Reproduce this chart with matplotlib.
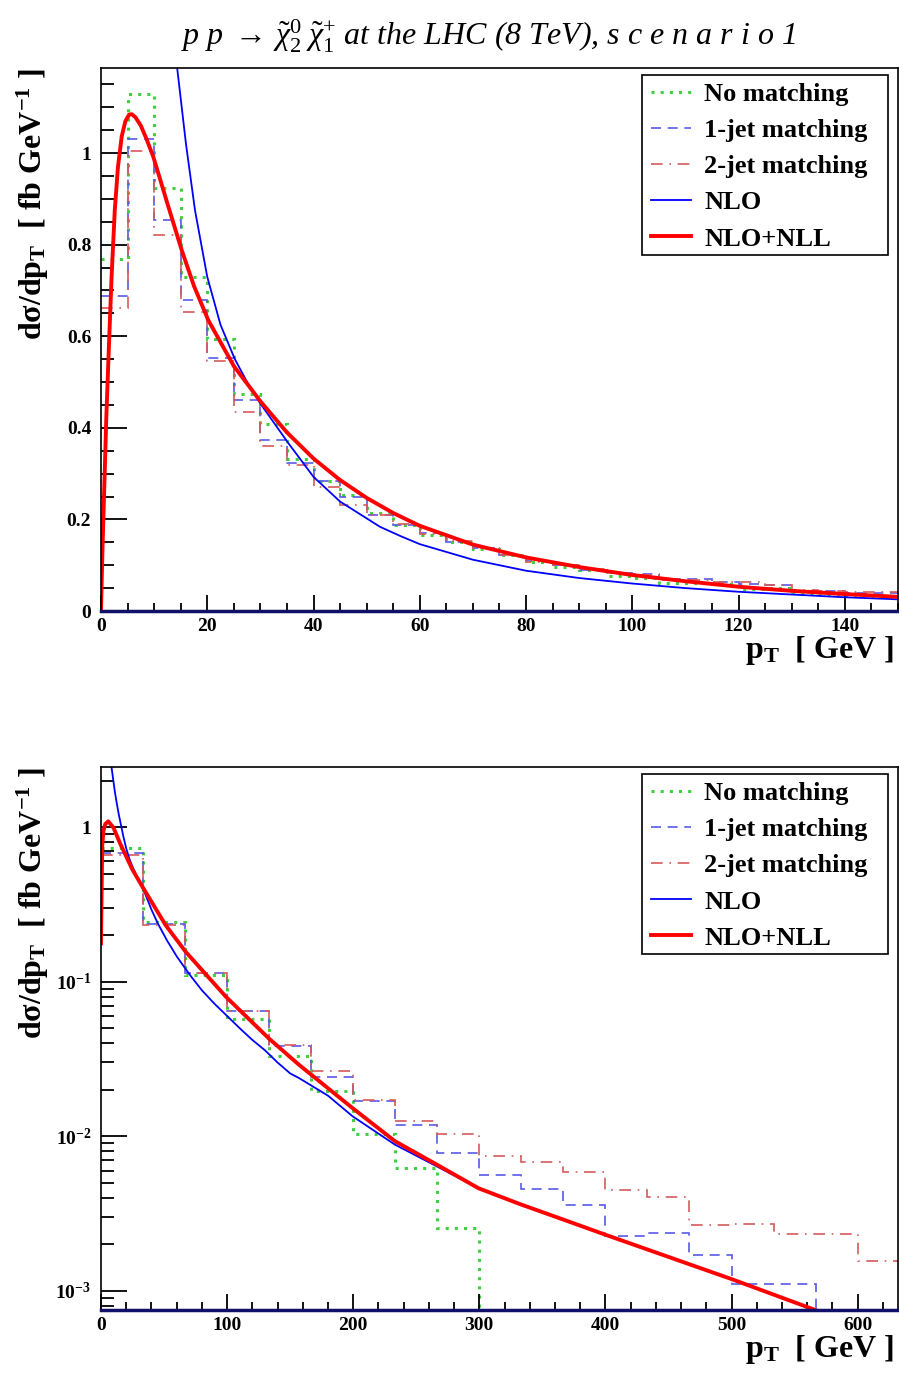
import numpy as np
import matplotlib.pyplot as plt
from matplotlib.patches import Rectangle
from matplotlib.ticker import MultipleLocator, FuncFormatter, LogLocator, NullFormatter

plt.rcParams['font.family'] = ['Liberation Serif', 'DejaVu Serif']
plt.rcParams['font.weight'] = 'bold'
plt.rcParams['mathtext.fontset'] = 'custom'
plt.rcParams['mathtext.rm'] = 'Liberation Serif:weight=normal'
plt.rcParams['mathtext.bf'] = 'Liberation Serif:weight=bold'
plt.rcParams['mathtext.it'] = 'Liberation Serif:style=italic:weight=normal'

# ---- top panel: linear, 5 GeV bins ----
edges_lin = np.arange(0, 151, 5)
nomatch_lin = [0.768, 1.130, 0.924, 0.729, 0.593, 0.475, 0.408, 0.333, 0.285, 0.253,
               0.213, 0.188, 0.166, 0.151, 0.135, 0.122, 0.108, 0.097, 0.090, 0.076,
               0.071, 0.062, 0.061, 0.059, 0.047, 0.050, 0.040, 0.038, 0.035, 0.033]
jet1_lin = [0.688, 1.031, 0.853, 0.680, 0.552, 0.461, 0.373, 0.324, 0.283, 0.250,
            0.209, 0.188, 0.170, 0.151, 0.137, 0.122, 0.110, 0.100, 0.090, 0.082,
            0.081, 0.070, 0.070, 0.064, 0.060, 0.057, 0.044, 0.043, 0.040, 0.040]
jet2_lin = [0.662, 1.004, 0.822, 0.652, 0.546, 0.435, 0.360, 0.319, 0.271, 0.231,
            0.210, 0.190, 0.168, 0.153, 0.137, 0.123, 0.108, 0.100, 0.092, 0.083,
            0.079, 0.068, 0.067, 0.063, 0.063, 0.056, 0.045, 0.044, 0.042, 0.041]

nlo_pt = [6, 7, 8.5, 10, 11, 12.5, 14.2, 16, 17.7, 20, 22.5, 25.2, 27.5, 30, 35.3, 40,
          45, 52.5, 56.3, 60, 70, 80, 90, 100, 110, 120, 130, 140, 150, 157, 180,
          199.5, 233, 266, 299.5, 332.5, 366, 399, 500, 568.5, 600]
nlo_val = [3.8, 3.1, 2.4, 1.95, 1.7, 1.43, 1.2, 1.02, 0.875, 0.73, 0.625, 0.55, 0.50,
           0.453, 0.366, 0.293, 0.239, 0.184, 0.164, 0.146, 0.112, 0.088, 0.072, 0.060,
           0.050, 0.042, 0.036, 0.030, 0.0255, 0.0238, 0.0183, 0.01346, 0.00883, 0.0064,
           0.0046, 0.00363, 0.0029, 0.00232, 0.00119, 0.00074, 0.0006]

nll_pt = [0, 0.3, 0.7, 1.0, 1.4, 2.0, 2.6, 3.2, 3.9, 4.6, 5.3, 5.8, 6.5, 7.5, 8.5, 9.85,
          11, 12.5, 15.2, 17.5, 20.2, 25, 30, 35, 40, 45, 50, 55, 60, 70, 80, 90, 100,
          110, 120, 130, 140, 150]
nll_val = [0, 0.14, 0.30, 0.42, 0.548, 0.73, 0.875, 0.97, 1.036, 1.070, 1.084, 1.085,
           1.078, 1.06, 1.033, 0.992, 0.948, 0.89, 0.788, 0.71, 0.635, 0.535, 0.458,
           0.390, 0.333, 0.286, 0.247, 0.214, 0.186, 0.145, 0.117, 0.096, 0.0786, 0.065,
           0.053, 0.044, 0.037, 0.031]

# ---- bottom panel: log, 33.3 GeV bins ----
edges_log = np.linspace(0, 633.3, 20)
nomatch_log = [0.732, 0.244, 0.110, 0.0571, 0.0328, 0.0195, 0.0104, 0.00625, 0.00256,
               0, 0, 0, 0, 0, 0, 0, 0, 0, 0]
jet1_log = [0.683, 0.236, 0.113, 0.0646, 0.0385, 0.0240, 0.0168, 0.01177, 0.00773,
            0.0056, 0.00455, 0.00357, 0.00225, 0.00238, 0.0017, 0.0011, 0.0011, 0, 0]
jet2_log = [0.663, 0.232, 0.114, 0.065, 0.0388, 0.0263, 0.01725, 0.0126, 0.01026,
            0.0075, 0.0068, 0.00586, 0.00447, 0.00405, 0.00267, 0.0027, 0.00234,
            0.00234, 0.00155]

nll_log_pt = [0, 1, 2, 3.5, 5.8, 10, 15, 25, 33, 51.3, 67.2, 99, 133, 157, 199.5, 233,
              266, 299.5, 332.5, 366, 399, 500, 568.5, 600]
nll_log_val = [0.177, 0.76, 0.95, 1.05, 1.09, 0.99, 0.79, 0.53, 0.41, 0.232, 0.156,
               0.080, 0.043, 0.029, 0.0152, 0.0093, 0.00657, 0.0046, 0.00363, 0.0029,
               0.00232, 0.00119, 0.00074, 0.0005]

labels = ["No matching", "1-jet matching", "2-jet matching", "NLO", "NLO+NLL"]

fig = plt.figure(figsize=(8.99, 13.78), dpi=100)
ax1 = fig.add_axes([0.1123, 0.5566, 0.8866, 0.3941])
ax2 = fig.add_axes([0.1123, 0.0493, 0.8866, 0.3941])

g_col, b_col, r_col = '#3fcf3f', '#5a5ae6', '#d55a5a'


def draw(ax, edges, h0, h1, h2, ymin):
    h0 = np.where(np.asarray(h0) > 0, h0, ymin)
    h1 = np.where(np.asarray(h1) > 0, h1, ymin)
    h2 = np.where(np.asarray(h2) > 0, h2, ymin)
    ax.stairs(h0, edges, baseline=None, color=g_col, lw=2.2, ls=(0, (1, 2)), label=labels[0])
    ax.stairs(h1, edges, baseline=None, color=b_col, lw=1.2, ls=(0, (6, 4)), label=labels[1])
    ax.stairs(h2, edges, baseline=None, color=r_col, lw=1.2, ls=(0, (7, 4, 1, 4)), label=labels[2])


def style(ax):
    for s in ax.spines.values():
        s.set_linewidth(1.2)
    ax.tick_params(which='both', direction='in', top=False, right=False, labelsize=14, width=1.3)
    ax.tick_params(axis='y', which='major', length=19, pad=7)
    ax.tick_params(axis='y', which='minor', length=9.5)
    ax.tick_params(axis='x', which='major', length=11.5, pad=5)
    ax.tick_params(axis='x', which='minor', length=6)
    ax.set_xlabel(r"p$_{\mathbf{T}}$  [ GeV ]", fontsize=23, fontweight='bold', loc='right')
    ax.xaxis.set_label_coords(0.995, -0.043)
    ax.set_ylabel("dσ/dp" + r"$_{\mathbf{T}}$  [ fb GeV$^{\mathbf{-1}}$ ]", fontsize=23,
                  fontweight='bold', loc='top')
    ax.yaxis.set_label_coords(-0.063, 1.0)
    ax.plot([0, 1], [0, 0], transform=ax.transAxes, color='#10106a', lw=2.5, clip_on=False, zorder=5)
    # legend box drawn as a fixed frame, entries placed inside it
    ax.add_patch(Rectangle((0.679, 0.655), 0.3085, 0.332, transform=ax.transAxes,
                           facecolor='white', edgecolor='black', lw=1.2, zorder=6))
    leg = ax.legend(loc='upper left', bbox_to_anchor=(0.6905, 0.973), borderaxespad=0,
                    frameon=False, prop={'family': 'Liberation Serif', 'weight': 'bold', 'size': 19},
                    handlelength=1.5, labelspacing=0.48, borderpad=0, handletextpad=0.5)
    leg.set_zorder(7)


# top
draw(ax1, edges_lin, nomatch_lin, jet1_lin, jet2_lin, 0)
ax1.plot(nlo_pt, nlo_val, color='#0000ff', lw=1.3, label=labels[3])
ax1.plot(nll_pt, nll_val, color='#ff0000', lw=2.8, label=labels[4])
ax1.set_xlim(0, 150)
ax1.set_ylim(0, 1.186)
ax1.xaxis.set_major_locator(MultipleLocator(20))
ax1.xaxis.set_minor_locator(MultipleLocator(5))
ax1.yaxis.set_major_locator(MultipleLocator(0.2))
ax1.yaxis.set_minor_locator(MultipleLocator(0.05))
ax1.yaxis.set_major_formatter(FuncFormatter(lambda v, p: "%g" % round(v, 3)))
style(ax1)

# bottom
ymin = 7.5e-4
ax2.set_yscale('log')
draw(ax2, edges_log, nomatch_log, jet1_log, jet2_log, ymin)
ax2.plot(nlo_pt, nlo_val, color='#0000ff', lw=1.3, label=labels[3])
ax2.plot(nll_log_pt, nll_log_val, color='#ff0000', lw=2.8, label=labels[4])
ax2.set_xlim(0, 632)
ax2.set_ylim(ymin, 2.45)
ax2.xaxis.set_major_locator(MultipleLocator(100))
ax2.xaxis.set_minor_locator(MultipleLocator(20))
ax2.yaxis.set_major_locator(LogLocator(base=10))
ax2.yaxis.set_minor_locator(LogLocator(base=10, subs=np.arange(2, 10)))
ax2.yaxis.set_minor_formatter(NullFormatter())
ax2.yaxis.set_major_formatter(FuncFormatter(
    lambda v, p: "1" if abs(v - 1) < 1e-9 else r"$\mathbf{10^{%d}}$" % round(np.log10(v))))
style(ax2)

title = (r"$p\ p\ \rightarrow\,\tilde{\chi}^{\mathit{0}}_{\mathit{2}}\;\tilde{\chi}^{+}_{\mathit{1}}$"
         " at the LHC (8 TeV), s c e n a r i o 1")
fig.text(0.543, 0.974, title, ha='center', va='center', fontsize=23, fontstyle='italic',
         fontweight='normal', family='Liberation Serif')

fig.savefig("out.png", dpi=100)
